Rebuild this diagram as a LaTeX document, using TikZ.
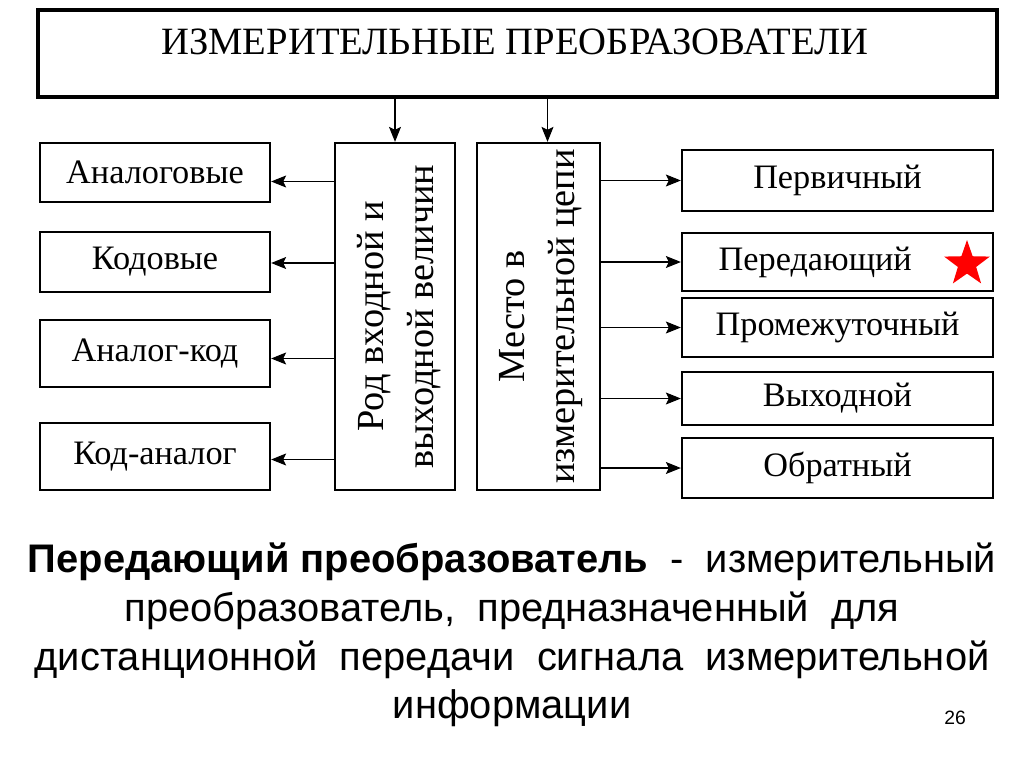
\documentclass[tikz,border=0pt]{standalone}
\usepackage{fontspec}
\setmainfont{Liberation Serif}
\setsansfont{Liberation Sans}
\usetikzlibrary{arrows.meta,positioning,shapes.geometric,calc}

\begin{document}
\begin{tikzpicture}[x=0.02cm,y=-0.02cm,
  topbox/.style={draw,line width=2.2pt,minimum width=959*0.02cm,minimum height=87*0.02cm,inner sep=0pt},
  colbox/.style={draw,line width=1.3pt,minimum width=120*0.02cm,minimum height=347*0.02cm,inner sep=0pt},
  lbox/.style={draw,line width=1.3pt,minimum width=230*0.02cm,align=center,inner sep=0pt,font=\fontsize{19.5}{22}\selectfont},
  rbox/.style={draw,line width=1.3pt,minimum width=311*0.02cm,align=center,inner sep=0pt,font=\fontsize{19.5}{22}\selectfont},
  rot/.style={rotate=90,align=center,inner sep=0pt,font=\fontsize{21.8}{28}\selectfont},
  arr/.style={-{Stealth[length=3mm,width=2.4mm,inset=0.6mm]},line width=0.6pt}]
\useasboundingbox (0,0) rectangle (1024,767);
% top
\node[topbox] (top) at (517.5,53.5) {};
\node[inner sep=0pt,font=\fontsize{22}{24}\selectfont] (ttl) at (515,42) {ИЗМЕРИТЕЛЬНЫЕ ПРЕОБРАЗОВАТЕЛИ};
% the two columns
\node[colbox] (rod) at (395,316.5) {};
\node[rot] (rodt) at (399,316.5) {Род входной и\\выходной величин};
\node[colbox,minimum width=123*0.02cm] (mesto) at (538.5,316.5) {};
\node[rot] (mestot) at (541,316.5) {Место в\\измерительной цепи};
\draw[arr] (top.south -| rod.north) -- (rod.north);
\draw[arr] ($(top.south -| mesto.north)+(9,0)$) -- ($(mesto.north)+(9,0)$);
% left boxes
\node[lbox,minimum height=59*0.02cm] (an) at (155,172.5) {Аналоговые};
\node[lbox,minimum height=60*0.02cm] (kod) at (155,262) {Кодовые};
\node[lbox,minimum height=67*0.02cm] (ank) at (155,353.5) {Аналог-код};
\node[lbox,minimum height=67*0.02cm] (kan) at (155,456.5) {Код-аналог};
\foreach \b/\d in {an/-9,kod/-1,ank/-5,kan/-3}
  \draw[arr] ([yshift=\d*0.02cm]rod.west |- \b.east) -- ([yshift=\d*0.02cm]\b.east);
% right boxes
\node[rbox,minimum height=61*0.02cm] (perv) at (837.5,180.5) {Первичный};
\node[rbox,minimum height=58*0.02cm] (pered) at (837.5,262) {Передающий\hspace{1.3em}};
\node[rbox,minimum height=59*0.02cm] (prom) at (837.5,327.5) {Промежуточный};
\node[rbox,minimum height=53*0.02cm] (vyh) at (837.5,398.5) {Выходной};
\node[rbox,minimum height=60*0.02cm] (obr) at (837.5,468) {Обратный};
\foreach \b in {perv,pered,prom,vyh,obr}
  \draw[arr] (mesto.east |- \b.west) -- (\b.west);
\node[star,star points=5,star point ratio=2.5,fill=red,inner sep=0pt,minimum size=48*0.02cm] (zv) at (967,264) {};
% definition
\node[font=\sffamily\fontsize{22.7}{27.7}\selectfont,align=center,inner sep=0pt] (defn) at (512,635)
  {\textbf{Передающий преобразователь}\ \ -\ \ измерительный\\
   преобразователь,\ \ предназначенный\ \ для\\
   дистанционной\ \ передачи\ \ сигнала\ \ измерительной\\
   информации};
\node[font=\sffamily\fontsize{11}{13}\selectfont,inner sep=0pt] (num) at (955,718) {26};
\end{tikzpicture}
\end{document}
